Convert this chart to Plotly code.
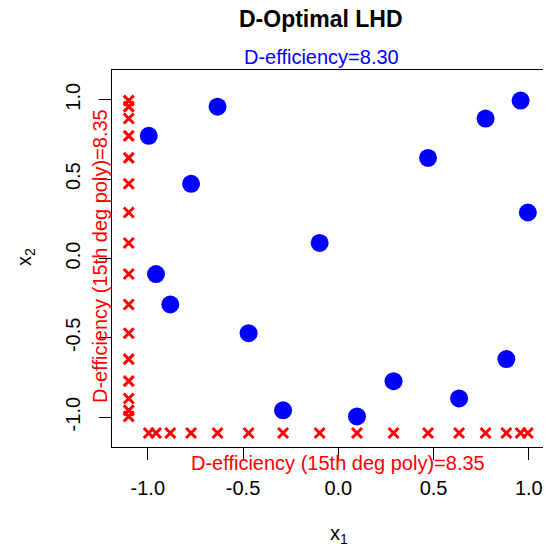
import plotly.graph_objects as go

# Design points (x1, x2)
x1 = [-0.995, -0.957, -0.882, -0.773, -0.634, -0.471, -0.290, -0.098,
      0.098, 0.290, 0.471, 0.634, 0.773, 0.882, 0.957, 0.995]
x2 = [0.773, -0.098, -0.290, 0.471, 0.957, -0.471, -0.957, 0.098,
      -0.995, -0.773, 0.634, -0.882, 0.882, -0.634, 0.995, 0.290]
rug_pos = -1.1
tick_vals = [-1.0, -0.5, 0.0, 0.5, 1.0]
tick_text = ["-1.0", "-0.5", "0.0", "0.5", "1.0"]
title_text = "D-Optimal LHD"
subtitle_text = "D-efficiency=8.30"
rug_text = "D-efficiency (15th deg poly)=8.35"

O = 8  # page body margin offset
W, H = 551 - O, 544 - O
L, T, B, R = 112 - O, 70 - O, 97, 0
PW, PH = W - L - R, H - T - B
XMIN, XSCALE = -1.188, 190.5
YR = [-1.188, 1.188]
XR = [XMIN, XMIN + PW / XSCALE]

def px(xp):
    return (xp - O - L) / PW

def py(yp):
    return (H - B - (yp - O)) / PH

FONT = "Liberation Sans, Arial, sans-serif"

fig = go.Figure()
fig.add_trace(go.Scatter(
    x=x1, y=x2, mode="markers",
    marker=dict(color="blue", size=18, line=dict(width=0)),
    showlegend=False, cliponaxis=False))
fig.add_trace(go.Scatter(
    x=x1, y=[rug_pos] * len(x1), mode="markers",
    marker=dict(symbol="x-thin", size=10, line=dict(color="red", width=3)),
    showlegend=False))
fig.add_trace(go.Scatter(
    x=[rug_pos] * len(x2), y=x2, mode="markers",
    marker=dict(symbol="x-thin", size=10, line=dict(color="red", width=3)),
    showlegend=False))

axis_common = dict(
    showgrid=False, zeroline=False, showline=True, linecolor="black",
    linewidth=1, ticks="outside", ticklen=12, tickwidth=1, tickcolor="black",
    tickvals=tick_vals, ticktext=tick_text,
    tickfont=dict(family=FONT, size=20, color="black"),
)
fig.update_layout(
    width=W, height=H,
    margin=dict(l=L, r=R, t=T, b=B),
    plot_bgcolor="white", paper_bgcolor="white",
    xaxis=dict(range=XR, mirror=True, ticklabelstandoff=11, **axis_common),
    yaxis=dict(range=YR, mirror=False, tickangle=-90, ticklabelstandoff=11, **axis_common),
    font=dict(family=FONT),
)

ann = [
    dict(text="<b>" + title_text + "</b>", x=px(321), y=py(19), font=dict(size=23, color="black")),
    dict(text=subtitle_text, x=px(321), y=py(57), font=dict(size=20, color="blue")),
    dict(text=rug_text, x=px(338), y=py(463), font=dict(size=20, color="red")),
    dict(text=rug_text, x=px(100), y=py(256), font=dict(size=20, color="red"), textangle=-90),
    dict(text="x<sub>1</sub>", x=px(339), y=py(534), font=dict(size=20, color="black")),
    dict(text="x<sub>2</sub>", x=px(25), y=py(257), font=dict(size=20, color="black"), textangle=-90),
]
for a in ann:
    fig.add_annotation(xref="paper", yref="paper", showarrow=False,
                       xanchor="center", yanchor="middle", **a)

fig.write_html("out.html")
